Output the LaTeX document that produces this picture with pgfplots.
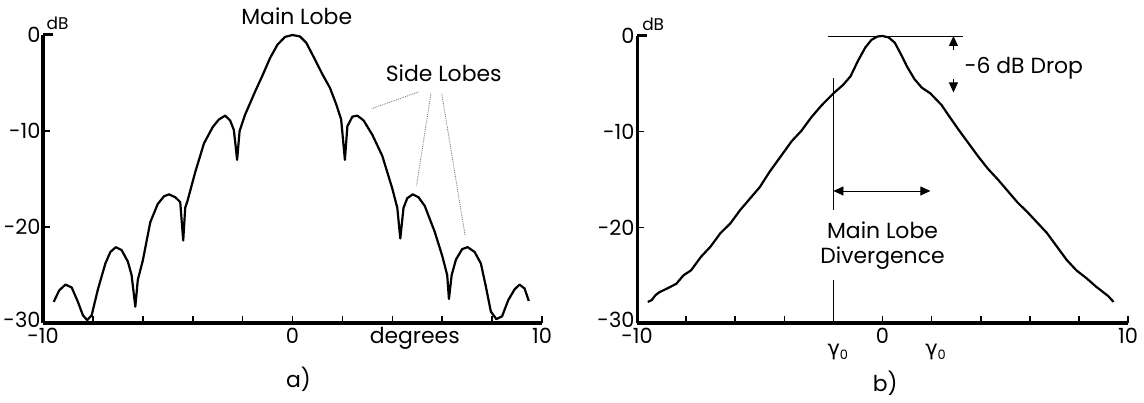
\documentclass[border=0pt]{standalone}
\usepackage{pgfplots}
\pgfplotsset{compat=1.18}
\usepackage{pgfplotstable}
\usepackage{fontspec}
\setmainfont{Poppins}
\newfontfamily\gfont{DejaVu Sans}
\usetikzlibrary{arrows.meta}

\pgfplotstableread{
x y
-9.57 -27.8
-9.35 -26.6
-9.1 -26.0
-8.85 -26.3
-8.6 -27.8
-8.4 -29.2
-8.23 -29.7
-8.05 -29.2
-7.8 -26.5
-7.5 -23.8
-7.3 -22.6
-7.08 -22.1
-6.85 -22.4
-6.6 -23.6
-6.45 -25.0
-6.3 -28.3
-6.2 -25.5
-6.0 -23.5
-5.7 -19.5
-5.4 -17.6
-5.15 -16.8
-4.95 -16.6
-4.7 -16.9
-4.5 -17.4
-4.38 -21.4
-4.3 -18.0
-4.2 -17.2
-3.9 -14.3
-3.55 -11.3
-3.2 -9.6
-2.95 -8.8
-2.7 -8.4
-2.5 -8.9
-2.35 -9.9
-2.22 -13.0
-2.12 -10.0
-1.9 -8.3
-1.5 -5.9
-1.2 -4.2
-0.9 -2.4
-0.6 -1.0
-0.3 -0.2
0 0
0.3 -0.15
0.55 -0.8
0.85 -2.3
1.2 -4.1
1.5 -5.5
1.75 -7.2
1.95 -8.8
2.1 -13.0
2.2 -9.5
2.4 -8.5
2.6 -8.4
2.85 -8.9
3.2 -10.4
3.6 -12.6
4.0 -16.0
4.2 -18.0
4.32 -21.2
4.45 -18.0
4.6 -17.0
4.82 -16.6
5.05 -16.9
5.3 -17.8
5.7 -20.5
6.0 -23.0
6.2 -25.0
6.27 -27.5
6.38 -25.0
6.55 -23.4
6.8 -22.3
7.02 -22.1
7.3 -22.6
7.55 -23.8
7.75 -26.2
7.95 -28.8
8.17 -29.6
8.4 -29.3
8.65 -27.6
8.9 -26.5
9.1 -26.0
9.3 -26.4
9.47 -27.7
}\lobesA

\pgfplotstableread{
x y
-9.56 -27.8
-9.4 -27.6
-9.25 -27.1
-9.1 -26.8
-8.7 -26.3
-8.4 -25.9
-8.1 -25.0
-7.8 -24.5
-7.4 -23.1
-7.0 -22.0
-6.6 -20.6
-6.2 -19.6
-5.8 -18.2
-5.4 -17.0
-5.0 -15.8
-4.6 -14.2
-4.15 -12.6
-3.7 -11.0
-3.3 -9.9
-2.9 -8.5
-2.5 -7.3
-2.0 -6.0
-1.6 -5.1
-1.3 -4.2
-1.0 -2.6
-0.7 -1.2
-0.45 -0.4
-0.2 -0.05
0 0
0.25 -0.15
0.5 -0.7
0.75 -1.9
1.0 -3.2
1.3 -4.5
1.6 -5.4
1.95 -6.0
2.4 -7.2
2.8 -8.7
3.1 -9.8
3.5 -11.2
3.9 -12.6
4.3 -13.9
4.7 -15.0
5.1 -16.2
5.5 -17.4
5.9 -18.4
6.3 -19.5
6.7 -20.6
7.1 -22.0
7.5 -23.4
7.9 -24.5
8.3 -25.3
8.7 -26.2
9.0 -26.8
9.2 -27.2
9.41 -27.8
}\lobesB

\pgfplotsset{
  panel/.style={
    scale only axis, clip=false, anchor=south west,
    xmin=-10, xmax=10, ymin=-30, ymax=0,
    axis lines*=left,
    axis line style={black, line width=3bp},
    xtick={-10,-8,...,10},
    xticklabels={-10,,,,,0,,,,,10},
    ytick={-30,-20,-10},
    yticklabels={\raisebox{7bp}{-30},-20,-10},
    extra y ticks={0}, extra y tick labels={0},
    extra tick style={major tick length=10bp, tick style={black, line width=3bp}},
    tick align=inside,
    major tick length=7bp,
    tick style={black, line width=1.6bp},
    ticklabel style={font=\fontsize{21}{23}\selectfont, text=black},
    xticklabel style={yshift=-2bp},
    yticklabel style={xshift=1bp},
  },
  lobe/.style={black, line width=2.2bp, line join=round, mark=none},
}

\begin{document}
\begin{tikzpicture}[font=\fontsize{22}{25}\selectfont]
\useasboundingbox (0,0) rectangle (1144bp,403bp);

\begin{axis}[panel, at={(43bp,80bp)}, width=499bp, height=288bp]
\addplot[lobe] table {\lobesA};
\draw[gray, densely dotted, line width=0.9bp] (axis cs:5.05,-5.93) -- (axis cs:3.18,-7.67);
\draw[gray, densely dotted, line width=0.9bp] (axis cs:5.55,-6.1) -- (axis cs:4.97,-15.7);
\draw[gray, densely dotted, line width=0.9bp] (axis cs:5.98,-6.1) -- (axis cs:6.92,-20.9);
\node at (axis cs:0.17,1.92) {Main Lobe};
\node at (axis cs:6.06,-4.0) {Side Lobes};
\node at (axis cs:4.9,-31.55) {degrees};
\node at (axis cs:0.24,-35.9) {a)};
\node at (axis cs:-9.42,1.2) {\fontsize{17}{18}\selectfont dB};
\end{axis}

\begin{axis}[panel, at={(637bp,80bp)}, width=491bp, height=287bp]
\addplot[lobe] table {\lobesB};
\draw[line width=0.8bp] (axis cs:-2.23,0) -- (axis cs:3.26,0);
\draw[line width=0.8bp, -{Triangle[length=10bp,width=9bp]}] (axis cs:2.89,-1.5) -- (axis cs:2.89,0);
\draw[line width=0.8bp, -{Triangle[length=10bp,width=9bp]}] (axis cs:2.89,-4.5) -- (axis cs:2.89,-5.9);
\node[anchor=west] at (axis cs:3.2,-3.4) {-6 dB Drop};
\draw[line width=0.8bp] (axis cs:-2,-4.43) -- (axis cs:-2,-18.2);
\draw[line width=0.8bp] (axis cs:-2,-25.5) -- (axis cs:-2,-30);
\draw[line width=0.8bp, {Triangle[length=10bp,width=9bp]}-{Triangle[length=10bp,width=9bp]}] (axis cs:-2,-16.2) -- (axis cs:1.95,-16.2);
\node at (axis cs:0,-20.3) {Main Lobe};
\node at (axis cs:0,-23.2) {Divergence};
\node at (axis cs:-1.82,-33.0) {{\gfont\fontsize{21}{23}\selectfont γ}\raisebox{-0.4ex}{\fontsize{13}{14}\selectfont 0}};
\node at (axis cs:2.16,-33.0) {{\gfont\fontsize{21}{23}\selectfont γ}\raisebox{-0.4ex}{\fontsize{13}{14}\selectfont 0}};
\node at (axis cs:0.11,-36.3) {b)};
\node at (axis cs:-9.34,1.2) {\fontsize{17}{18}\selectfont dB};
\end{axis}
\end{tikzpicture}
\end{document}
